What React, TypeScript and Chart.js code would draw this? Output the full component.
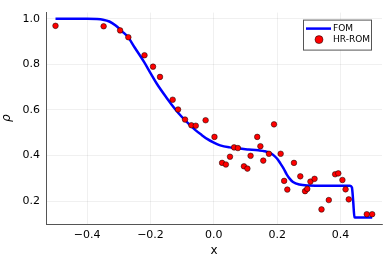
import React, { useEffect, useRef } from "react";
import { Chart, registerables } from "chart.js";
Chart.register(...registerables);

const fomX = [-0.5, -0.4, -0.37, -0.35, -0.33, -0.31, -0.29, -0.27, -0.25, -0.22, -0.2, -0.18, -0.15, -0.12, -0.1, -0.08, -0.06, -0.04, -0.02, 0.0, 0.02, 0.05, 0.08, 0.11, 0.14, 0.16, 0.18, 0.19, 0.2, 0.21, 0.22, 0.23, 0.24, 0.25, 0.27, 0.3, 0.35, 0.4, 0.43, 0.436, 0.44, 0.444, 0.45, 0.5];
const fomY = [1.0, 1.0, 0.999, 0.996, 0.988, 0.97, 0.945, 0.918, 0.874, 0.81, 0.762, 0.715, 0.655, 0.6, 0.568, 0.54, 0.514, 0.492, 0.472, 0.457, 0.445, 0.436, 0.431, 0.427, 0.423, 0.419, 0.41, 0.4, 0.386, 0.366, 0.344, 0.318, 0.298, 0.284, 0.273, 0.269, 0.268, 0.268, 0.268, 0.26, 0.2, 0.13, 0.128, 0.128];

const romX = [-0.5, -0.348, -0.296, -0.27, -0.219, -0.192, -0.17, -0.13, -0.113, -0.091, -0.071, -0.057, -0.026, 0.002, 0.026, 0.038, 0.051, 0.064, 0.076, 0.095, 0.106, 0.116, 0.137, 0.147, 0.156, 0.174, 0.19, 0.211, 0.222, 0.232, 0.253, 0.273, 0.288, 0.295, 0.305, 0.318, 0.34, 0.363, 0.383, 0.393, 0.406, 0.416, 0.426, 0.483, 0.5];
const romY = [0.969, 0.967, 0.949, 0.919, 0.84, 0.79, 0.745, 0.645, 0.602, 0.558, 0.533, 0.531, 0.555, 0.482, 0.368, 0.361, 0.395, 0.436, 0.433, 0.353, 0.343, 0.399, 0.482, 0.441, 0.378, 0.408, 0.537, 0.408, 0.289, 0.251, 0.368, 0.309, 0.244, 0.254, 0.286, 0.298, 0.164, 0.205, 0.318, 0.322, 0.293, 0.252, 0.208, 0.143, 0.143];

const xTicks = [-0.4, -0.2, 0.0, 0.2, 0.4];
const xTickLabels = ["\u22120.4", "\u22120.2", "0.0", "0.2", "0.4"];
const yTicks = [0.2, 0.4, 0.6, 0.8, 1.0];
const yTickLabels = ["0.2", "0.4", "0.6", "0.8", "1.0"];
const seriesNames = ["FOM", "HR-ROM"];

const FONT = "'DejaVu Sans', sans-serif";

const legendPlugin = {
  id: "insetLegend",
  afterDraw(chart: any) {
    const ctx = chart.ctx;
    const a = chart.chartArea;
    const w = 68, h = 30;
    const x = a.right - 11 - w;
    const y = a.top + 7;
    ctx.save();
    ctx.fillStyle = "#ffffff";
    ctx.fillRect(x, y, w, h);
    ctx.strokeStyle = "#555555";
    ctx.lineWidth = 1;
    ctx.strokeRect(x + 0.5, y + 0.5, w, h);
    ctx.strokeStyle = "#0000ff";
    ctx.lineWidth = 2.5;
    ctx.beginPath();
    ctx.moveTo(x + 3, y + 9);
    ctx.lineTo(x + 28, y + 9);
    ctx.stroke();
    ctx.beginPath();
    ctx.arc(x + 16, y + 20, 4, 0, Math.PI * 2);
    ctx.fillStyle = "#ff0000";
    ctx.fill();
    ctx.strokeStyle = "#000000";
    ctx.lineWidth = 0.5;
    ctx.stroke();
    ctx.fillStyle = "#000000";
    ctx.font = "9px " + FONT;
    ctx.textBaseline = "middle";
    ctx.textAlign = "left";
    ctx.fillText(seriesNames[0], x + 30, y + 9);
    ctx.fillText(seriesNames[1], x + 30, y + 20);
    ctx.restore();
  },
};

export default function App() {
  const ref = useRef<HTMLCanvasElement>(null);
  useEffect(() => {
    document.body.style.margin = "0";
    const chart = new Chart(ref.current!, {
      type: "scatter",
      data: {
        datasets: [
          {
            type: "line",
            label: seriesNames[0],
            data: fomX.map((x, i) => ({ x, y: fomY[i] })),
            borderColor: "#0000ff",
            backgroundColor: "#0000ff",
            borderWidth: 2.5,
            pointRadius: 0,
            cubicInterpolationMode: "monotone",
            fill: false,
            order: 1,
          } as any,
          {
            type: "scatter",
            label: seriesNames[1],
            data: romX.map((x, i) => ({ x, y: romY[i] })),
            backgroundColor: "#ff0000",
            borderColor: "#000000",
            borderWidth: 0.5,
            pointRadius: 2.8,
            order: 0,
          },
        ],
      },
      options: {
        animation: false,
        responsive: false,
        maintainAspectRatio: false,
        layout: { padding: { top: 7, right: 7, left: 0, bottom: 0 } },
        plugins: { legend: { display: false }, tooltip: { enabled: false } },
        scales: {
          x: {
            type: "linear",
            min: -0.53,
            max: 0.531,
            afterFit: (s: any) => { s.height = 35; },
            afterBuildTicks: (s: any) => { s.ticks = xTicks.map((v) => ({ value: v })); },
            ticks: {
              callback: (v: any) => { const i = xTicks.findIndex((t) => Math.abs(t - v) < 1e-9); return i >= 0 ? xTickLabels[i] : ""; },
              font: { family: FONT, size: 11 },
              color: "#000000",
              padding: 5,
              maxRotation: 0,
            },
            grid: { color: "rgba(0,0,0,0.1)", lineWidth: 0.6, drawTicks: false },
            border: { display: true, color: "#555555", width: 1 },
            title: { display: true, text: "x", font: { family: FONT, size: 12 }, color: "#000000", padding: { top: 0, bottom: 1 } },
          },
          y: {
            type: "linear",
            min: 0.1,
            max: 1.027,
            afterFit: (s: any) => { s.width = 46; },
            afterBuildTicks: (s: any) => { s.ticks = yTicks.map((v) => ({ value: v })); },
            ticks: {
              callback: (v: any) => { const i = yTicks.findIndex((t) => Math.abs(t - v) < 1e-9); return i >= 0 ? yTickLabels[i] : ""; },
              font: { family: FONT, size: 11 },
              color: "#000000",
              padding: 6,
            },
            grid: { color: "rgba(0,0,0,0.1)", lineWidth: 0.6, drawTicks: false },
            border: { display: true, color: "#555555", width: 1 },
            title: { display: true, text: "\u03c1", font: { family: FONT, size: 12, style: "italic" }, color: "#000000", padding: 0 },
          },
        },
      },
      plugins: [legendPlugin],
    });
    return () => chart.destroy();
  }, []);
  return (
    <div style={{ width: 389, height: 259 }}>
      <canvas ref={ref} width={389} height={259} style={{ display: "block" }} />
    </div>
  );
}
